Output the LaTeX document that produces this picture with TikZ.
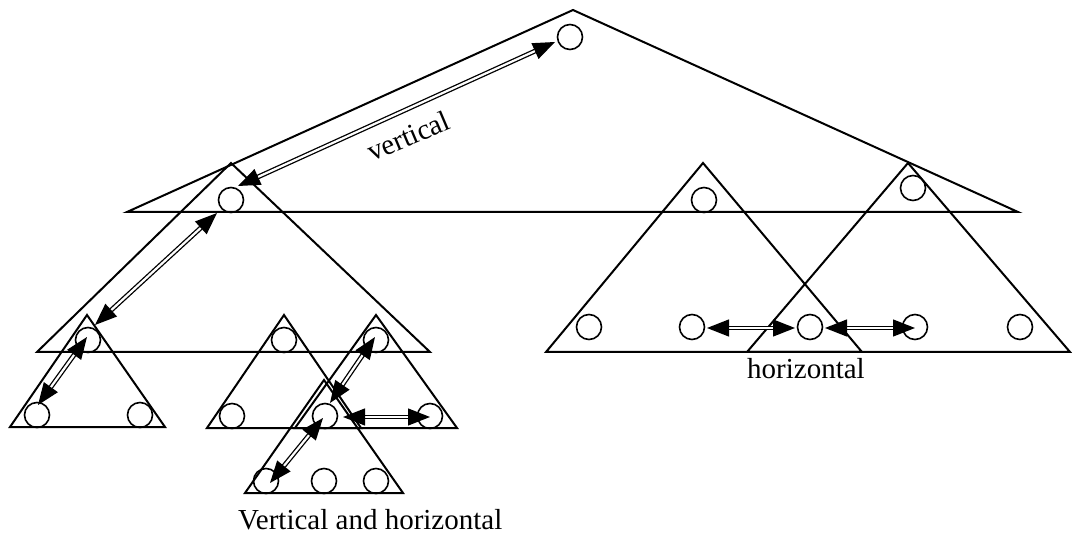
\documentclass[tikz,border=0pt]{standalone}
\usepackage{fontspec}
\setmainfont{Liberation Serif}
\usetikzlibrary{arrows.meta}
\begin{document}
\begin{tikzpicture}[x=1pt,y=-1pt,
  tri/.style={draw, line width=2pt, line join=miter},
  circ/.style={circle, draw, line width=1.6pt, minimum size=25pt, inner sep=0pt},
  dbl/.style={draw, line width=1.3pt, double, double distance=2.2pt,
    {Triangle[length=22pt,width=17pt]}-{Triangle[length=22pt,width=17pt]}},
  lbl/.style={font=\fontsize{29}{34}\selectfont, inner sep=0pt}]
\useasboundingbox (0,0) rectangle (1073,534);
% triangles
\draw[tri] (127,212) -- (573,10) -- (1018,212) -- cycle;
\draw[tri] (37,352) -- (231,163) -- (430,352) -- cycle;
\draw[tri] (546,352) -- (703,163) -- (862,352) -- cycle;
\draw[tri] (747,352) -- (908,163) -- (1070,352) -- cycle;
\draw[tri] (10,427) -- (87,315) -- (165,427) -- cycle;
\draw[tri] (207,428) -- (284,315) -- (361,428) -- cycle;
\draw[tri] (295,428) -- (376,315) -- (457,428) -- cycle;
\draw[tri] (245,493) -- (324,380) -- (403,493) -- cycle;
% circles
\node[circ] (T0) at (570,37) {};
\node[circ] (L1) at (231,200) {};
\node[circ] (D1) at (704,200) {};
\node[circ] (E1) at (913,188) {};
\node[circ] (a1) at (88,340) {};
\node[circ] (a2) at (37,415) {};
\node[circ] (a3) at (140,415) {};
\node[circ] (b1) at (284,340) {};
\node[circ] (b2) at (232,416) {};
\node[circ] (c1) at (376,340) {};
\node[circ] (c2) at (325,416) {};
\node[circ] (c3) at (430,416) {};
\node[circ] (d1) at (266,481) {};
\node[circ] (d2) at (324,481) {};
\node[circ] (d3) at (376,481) {};
\node[circ] (e1) at (589,327) {};
\node[circ] (e2) at (692,327) {};
\node[circ] (e3) at (810,327) {};
\node[circ] (e4) at (915,327) {};
\node[circ] (e5) at (1020,327) {};
% arrow end points
\coordinate (v1a) at (238,186);
\coordinate (v1b) at (555,42);
\coordinate (v2a) at (217,213);
\coordinate (v2b) at (95,325);
\coordinate (v3a) at (87,337);
\coordinate (v3b) at (38,405);
\coordinate (m1a) at (375,337);
\coordinate (m1b) at (330,403);
\coordinate (m2a) at (323,418);
\coordinate (m2b) at (270,483);
\coordinate (h1a) at (343,417);
\coordinate (h1b) at (430,417);
\coordinate (h2a) at (707,328);
\coordinate (h2b) at (795,328);
\coordinate (h3a) at (825,328);
\coordinate (h3b) at (915,328);
% arrows
\draw[dbl] (v1a) -- (v1b);
\draw[dbl] (v2a) -- (v2b);
\draw[dbl] (v3a) -- (v3b);
\draw[dbl] (m1a) -- (m1b);
\draw[dbl] (m2a) -- (m2b);
\draw[dbl] (h1a) -- (h1b);
\draw[dbl] (h2a) -- (h2b);
\draw[dbl] (h3a) -- (h3b);
% labels
\node[lbl, anchor=base west, rotate=23] (lv) at (372,162) {vertical};
\node[lbl, anchor=base west] (lh) at (747,378) {horizontal};
\node[lbl, anchor=base west] (lvh) at (238,529) {Vertical and horizontal};
\end{tikzpicture}
\end{document}
